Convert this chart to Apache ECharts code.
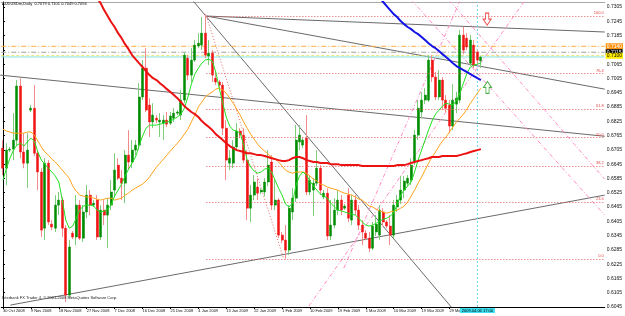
<!DOCTYPE html>
<html>
<head>
<meta charset="utf-8">
<script src="https://cdn.jsdelivr.net/npm/echarts@6/dist/echarts.min.js"></script>
<style>
html, body { margin: 0; padding: 0; background: #fff; }
#main { width: 625px; height: 316px; }
</style>
</head>
<body>
<div id="main"></div>
<script>
var FONT = 'Liberation Sans';
var SLOTS = 173; // bars + empty shift area on the right

// date labels, one every 8 bars
var tickLabels = ['30 Oct 2008', '9 Nov 2008', '18 Nov 2008', '27 Nov 2008', '7 Dec 2008', '16 Dec 2008',
    '25 Dec 2008', '4 Jan 2009', '13 Jan 2009', '22 Jan 2009', '1 Feb 2009', '10 Feb 2009', '19 Feb 2009',
    '1 Mar 2009', '10 Mar 2009', '19 Mar 2009', '29 Mar 2009'];

// daily bars [open, close, low, high]
var candles = [
    [0.6712,0.6628,0.6599,0.6746],[0.6628,0.6704,0.6557,0.6733],[0.6704,0.6708,0.6696,0.6717],[0.6708,0.6746,0.6662,0.6859],
    [0.6746,0.6973,0.6725,0.6998],[0.6973,0.6696,0.6670,0.7006],[0.6696,0.6649,0.6628,0.6775],[0.6649,0.6704,0.6544,0.6775],
    [0.6872,0.6880,0.6864,0.6893],[0.6880,0.6691,0.6679,0.6977],[0.6691,0.6612,0.6536,0.6704],[0.6612,0.6368,0.6339,0.6628],
    [0.6376,0.6649,0.6326,0.6670],[0.6649,0.6402,0.6389,0.6662],[0.6393,0.6381,0.6368,0.6410],[0.6376,0.6473,0.6360,0.6515],
    [0.6473,0.6494,0.6431,0.6528],[0.6494,0.6376,0.6339,0.6507],[0.6376,0.6095,0.6066,0.6389],[0.6095,0.6297,0.6082,0.6326],
    [0.6355,0.6339,0.6330,0.6364],[0.6339,0.6473,0.6305,0.6515],[0.6473,0.6334,0.6326,0.6494],[0.6334,0.6444,0.6318,0.6473],
    [0.6444,0.6515,0.6418,0.6557],[0.6515,0.6473,0.6431,0.6536],[0.6473,0.6481,0.6465,0.6494],[0.6494,0.6339,0.6326,0.6515],
    [0.6339,0.6452,0.6326,0.6473],[0.6452,0.6431,0.6389,0.6494],[0.6431,0.6473,0.6292,0.6502],[0.6473,0.6528,0.6452,0.6578],
    [0.6536,0.6620,0.6507,0.6691],[0.6641,0.6586,0.6578,0.6670],[0.6586,0.6565,0.6494,0.6620],[0.6565,0.6683,0.6481,0.6704],
    [0.6683,0.6654,0.6620,0.6788],[0.6654,0.6704,0.6628,0.6746],[0.6704,0.6725,0.6683,0.6746],[0.6725,0.6927,0.6704,0.6985],
    [0.6927,0.7048,0.6914,0.7082],[0.7048,0.6872,0.6864,0.7132],[0.6893,0.6822,0.6759,0.6922],[0.6822,0.6851,0.6796,0.6901],
    [0.6838,0.6830,0.6817,0.6851],[0.6822,0.6830,0.6759,0.6859],[0.6817,0.6830,0.6746,0.6851],[0.6830,0.6813,0.6801,0.6864],
    [0.6817,0.6847,0.6809,0.6864],[0.6838,0.6859,0.6822,0.6880],[0.6859,0.6864,0.6851,0.6872],[0.6851,0.6914,0.6830,0.6956],
    [0.6914,0.7103,0.6901,0.7116],[0.7090,0.7019,0.6998,0.7103],[0.7019,0.7082,0.6990,0.7132],[0.7082,0.7145,0.7074,0.7166],
    [0.7141,0.7153,0.7132,0.7195],[0.7145,0.7195,0.7124,0.7263],[0.7195,0.7103,0.7090,0.7275],[0.7099,0.7111,0.7061,0.7166],
    [0.7111,0.7019,0.6990,0.7124],[0.7006,0.6990,0.6977,0.7032],[0.6990,0.6977,0.6964,0.6998],[0.6977,0.6796,0.6767,0.6990],
    [0.6796,0.6662,0.6578,0.6830],[0.6649,0.6670,0.6620,0.6704],[0.6649,0.6717,0.6628,0.6746],[0.6717,0.6784,0.6704,0.6817],
    [0.6784,0.6767,0.6754,0.6796],[0.6767,0.6662,0.6649,0.6796],[0.6662,0.6460,0.6410,0.6704],[0.6460,0.6515,0.6402,0.6557],
    [0.6515,0.6570,0.6494,0.6599],[0.6549,0.6523,0.6494,0.6586],[0.6528,0.6536,0.6519,0.6544],[0.6528,0.6570,0.6511,0.6586],
    [0.6570,0.6641,0.6553,0.6704],[0.6654,0.6473,0.6452,0.6683],[0.6473,0.6494,0.6452,0.6578],[0.6494,0.6347,0.6334,0.6502],
    [0.6347,0.6326,0.6313,0.6360],[0.6326,0.6284,0.6246,0.6389],[0.6284,0.6460,0.6263,0.6473],[0.6444,0.6502,0.6410,0.6544],
    [0.6502,0.6746,0.6486,0.6809],[0.6738,0.6767,0.6704,0.6809],[0.6725,0.6746,0.6712,0.6754],[0.6754,0.6528,0.6515,0.6851],
    [0.6528,0.6578,0.6515,0.6599],[0.6536,0.6565,0.6427,0.6586],[0.6565,0.6628,0.6553,0.6704],[0.6628,0.6536,0.6515,0.6641],
    [0.6507,0.6523,0.6498,0.6536],[0.6523,0.6343,0.6326,0.6544],[0.6343,0.6389,0.6326,0.6494],[0.6389,0.6452,0.6376,0.6502],
    [0.6452,0.6494,0.6431,0.6536],[0.6494,0.6452,0.6431,0.6515],[0.6460,0.6469,0.6452,0.6477],[0.6515,0.6418,0.6402,0.6544],
    [0.6410,0.6494,0.6389,0.6515],[0.6494,0.6452,0.6431,0.6515],[0.6452,0.6389,0.6368,0.6473],[0.6389,0.6360,0.6305,0.6410],
    [0.6355,0.6334,0.6326,0.6368],[0.6334,0.6292,0.6276,0.6360],[0.6292,0.6385,0.6284,0.6402],[0.6360,0.6393,0.6343,0.6431],
    [0.6347,0.6452,0.6326,0.6473],[0.6444,0.6402,0.6385,0.6460],[0.6402,0.6385,0.6376,0.6410],[0.6385,0.6347,0.6305,0.6431],
    [0.6347,0.6473,0.6334,0.6494],[0.6465,0.6494,0.6444,0.6515],[0.6494,0.6536,0.6477,0.6595],[0.6536,0.6574,0.6502,0.6595],
    [0.6565,0.6586,0.6553,0.6599],[0.6578,0.6641,0.6557,0.6670],[0.6654,0.6767,0.6641,0.6788],[0.6767,0.6880,0.6746,0.6914],
    [0.6864,0.6914,0.6838,0.6948],[0.6914,0.6935,0.6897,0.6964],[0.6914,0.7082,0.6906,0.7103],[0.7082,0.7011,0.6990,0.7103],
    [0.7011,0.6927,0.6914,0.7032],[0.6927,0.6998,0.6914,0.7040],[0.6998,0.6914,0.6872,0.7011],[0.6914,0.6880,0.6864,0.6935],
    [0.6893,0.6805,0.6775,0.6914],[0.6805,0.6914,0.6788,0.6981],[0.6897,0.6922,0.6859,0.6948],[0.6914,0.7187,0.6901,0.7208],
    [0.7187,0.7124,0.7107,0.7221],[0.7174,0.7137,0.7124,0.7195],[0.7069,0.7166,0.7057,0.7187],[0.7145,0.7061,0.7048,0.7166],
    [0.7116,0.7082,0.7061,0.7124],[0.7079,0.7094,0.7049,0.7101]
];

// moving averages as drawn
var maGreen = [
    0.6578,0.6628,0.6670,0.6704,0.6725,0.6733,0.6721,0.6738,0.6754,0.6742,
    0.6696,0.6662,0.6645,0.6628,0.6612,0.6595,0.6570,0.6494,0.6410,0.6376,
    0.6385,0.6418,0.6452,0.6469,0.6473,0.6473,0.6469,0.6452,0.6444,0.6448,
    0.6456,0.6473,0.6511,0.6536,0.6561,0.6595,0.6624,0.6649,0.6675,0.6721,
    0.6763,0.6796,0.6809,0.6809,0.6809,0.6813,0.6817,0.6822,0.6826,0.6834,
    0.6843,0.6855,0.6880,0.6927,0.6981,0.7023,0.7048,0.7069,0.7082,0.7086,
    0.7078,0.7032,0.6964,0.6901,0.6843,0.6805,0.6788,0.6784,0.6775,0.6725,
    0.6662,0.6633,0.6616,0.6607,0.6612,0.6624,0.6628,0.6612,0.6578,0.6544,
    0.6515,0.6477,0.6465,0.6481,0.6557,0.6595,0.6612,0.6599,0.6574,0.6553,
    0.6536,0.6519,0.6511,0.6502,0.6481,0.6465,0.6452,0.6448,0.6444,0.6439,
    0.6435,0.6431,0.6418,0.6402,0.6389,0.6385,0.6389,0.6397,0.6406,0.6414,
    0.6418,0.6427,0.6439,0.6477,0.6515,0.6536,0.6553,0.6570,0.6612,0.6662,
    0.6704,0.6746,0.6788,0.6826,0.6855,0.6872,0.6889,0.6901,0.6897,0.6893,
    0.6914,0.6943,0.6985,0.7027,0.7053,0.7061,0.7065,0.7069
];
var maOrange = [
    0.6792,0.6784,0.6780,0.6775,0.6775,0.6775,0.6775,0.6780,0.6780,0.6767,
    0.6742,0.6717,0.6696,0.6683,0.6666,0.6654,0.6637,0.6620,0.6603,0.6586,
    0.6553,0.6532,0.6515,0.6511,0.6507,0.6507,0.6502,0.6498,0.6494,0.6498,
    0.6502,0.6502,0.6494,0.6498,0.6502,0.6515,0.6523,0.6536,0.6544,0.6553,
    0.6561,0.6574,0.6591,0.6612,0.6633,0.6649,0.6666,0.6683,0.6700,0.6717,
    0.6733,0.6750,0.6771,0.6792,0.6822,0.6851,0.6885,0.6906,0.6927,0.6939,
    0.6948,0.6960,0.6964,0.6956,0.6943,0.6922,0.6901,0.6876,0.6851,0.6822,
    0.6796,0.6771,0.6750,0.6729,0.6712,0.6700,0.6687,0.6675,0.6666,0.6654,
    0.6637,0.6620,0.6612,0.6607,0.6612,0.6612,0.6612,0.6607,0.6595,0.6582,
    0.6574,0.6561,0.6557,0.6549,0.6544,0.6540,0.6536,0.6528,0.6523,0.6519,
    0.6515,0.6507,0.6498,0.6494,0.6481,0.6469,0.6465,0.6456,0.6448,0.6444,
    0.6439,0.6444,0.6448,0.6452,0.6460,0.6469,0.6486,0.6511,0.6536,0.6565,
    0.6591,0.6620,0.6649,0.6675,0.6696,0.6721,0.6742,0.6759,0.6780,0.6801,
    0.6822,0.6838,0.6855,0.6876,0.6901,0.6922,0.6943,0.6964
];
var redStart = 27;
var maRed = [
    0.7342,0.7321,0.7292,0.7267,0.7242,0.7221,0.7195,0.7174,0.7149,0.7128,
    0.7103,0.7086,0.7069,0.7053,0.7036,0.7019,0.7006,0.6998,0.6985,0.6973,
    0.6960,0.6948,0.6935,0.6922,0.6906,0.6889,0.6876,0.6864,0.6855,0.6843,
    0.6826,0.6813,0.6801,0.6788,0.6771,0.6759,0.6746,0.6733,0.6721,0.6712,
    0.6704,0.6700,0.6696,0.6691,0.6691,0.6687,0.6683,0.6683,0.6679,0.6675,
    0.6670,0.6666,0.6662,0.6658,0.6658,0.6662,0.6670,0.6675,0.6675,0.6670,
    0.6662,0.6658,0.6654,0.6654,0.6650,0.6650,0.6650,0.6645,0.6645,0.6645,
    0.6641,0.6641,0.6641,0.6641,0.6641,0.6641,0.6637,0.6637,0.6637,0.6637,
    0.6637,0.6637,0.6637,0.6637,0.6637,0.6637,0.6641,0.6641,0.6641,0.6645,
    0.6650,0.6654,0.6658,0.6662,0.6666,0.6670,0.6675,0.6675,0.6675,0.6679,
    0.6679,0.6679,0.6679,0.6679,0.6683,0.6687,0.6691,0.6696,0.6700,0.6704,
    0.6708
];
var blueStart = 107;
var maBlue = [
    0.7359,0.7342,0.7326,0.7309,0.7292,0.7275,0.7263,0.7246,0.7233,0.7221,
    0.7212,0.7200,0.7191,0.7179,0.7166,0.7153,0.7141,0.7132,0.7120,0.7107,
    0.7095,0.7082,0.7069,0.7057,0.7048,0.7040,0.7032,0.7023,0.7015,0.7006,
    0.6998
];

// Fibonacci retracement, Jan high to Feb low
var fibLevels = [0.7267, 0.7026, 0.6877, 0.6757, 0.6636, 0.6487, 0.6246];
var fibNames = ['100.0', '76.4', '61.8', '50.0', '38.2', '23.6', '0.0'];
var fibFrom = 58.3;
var fibDiagonal = [[58.3, 0.7267], [80.5, 0.6246]];

// drawn objects, [bar index, price] end points
var trendLines = [
    [[-0.8, 0.7019], [172.5, 0.6762]],
    [[58.3, 0.7267], [172.5, 0.7200]],
    [[58.3, 0.7267], [172.5, 0.6960]],
    [[54.3, 0.7334], [128.5, 0.6045]],
    [[2.1, 0.6053], [172.5, 0.6515]]
];
var fanLines = [
    [[87.7, 0.6049], [149.7, 0.7334]],
    [[97.7, 0.6208], [131.1, 0.7334]],
    [[117.1, 0.7334], [172.5, 0.6431]],
    [[127.9, 0.7334], [172.5, 0.6582]]
];
var tagPrices = [0.7140, 0.7115, 0.7100];
var crossPrice = 0.7095;
var crossBar = 136;
var crossTime = '2009.04.06 17:00';
var arrowDown = [138.8, 0.7254];
var arrowUp = [138.9, 0.6967];

function padStart(arr, start) {
    var out = [];
    for (var i = 0; i < start; i++) out.push(null);
    return out.concat(arr);
}

var cats = [];
for (var i = 0; i < SLOTS; i++) cats.push(i);

// bodies only (no wick), wick series is drawn underneath in a lighter colour
var bodies = candles.map(function (c) {
    return [c[0], c[1], Math.min(c[0], c[1]), Math.max(c[0], c[1])];
});

function showTick(idx) {
    return idx % 8 === 0 && idx <= 128;
}

var series = [];

trendLines.forEach(function (ln, k) {
    var s = {
        type: 'line', xAxisIndex: 1, data: ln, symbol: 'none', silent: true, z: 2,
        lineStyle: { color: '#6a6a6a', width: 1 }
    };
    if (k === 0) {
        s.markLine = {
            symbol: ['none', 'none'], silent: true, animation: false,
            lineStyle: { color: '#e05a5a', width: 1, type: [1, 2] },
            label: { show: true, position: 'insideEndTop', fontSize: 4, color: '#e04848', fontFamily: FONT, distance: 1 },
            data: fibLevels.map(function (v, j) {
                return [{ coord: [fibFrom, v], name: fibNames[j] }, { coord: [SLOTS - 0.5, v] }];
            })
        };
    }
    series.push(s);
});

fanLines.forEach(function (ln) {
    series.push({
        type: 'line', xAxisIndex: 1, data: ln, symbol: 'none', silent: true, z: 2,
        lineStyle: { color: '#ff8cc6', width: 1, type: [4, 2, 1, 2] }
    });
});

series.push({
    type: 'line', xAxisIndex: 1, data: fibDiagonal, symbol: 'none', silent: true, z: 2,
    lineStyle: { color: '#e86a6a', width: 1, type: [1, 2] }
});

// horizontal price levels with their tags on the price scale
var tagStyles = [
    { line: '#ffae3c', dash: [5, 2, 1, 2], bg: '#ff9410', fg: '#fff' },
    { line: '#a0a0a0', dash: [5, 2, 1, 2], bg: '#000', fg: '#fff' },
    { line: '#e6dc50', dash: [3, 2], bg: '#ffee00', fg: '#000' }
];
tagPrices.forEach(function (v, k) {
    var st = tagStyles[k];
    series.push({
        type: 'line', xAxisIndex: 1, data: [[-0.5, v], [SLOTS - 0.5, v]], symbol: 'none', silent: true, z: 2,
        lineStyle: { color: st.line, width: 1, type: st.dash },
        markPoint: {
            symbol: 'rect', symbolSize: 0, silent: true, animation: false,
            label: {
                show: true, position: 'right', distance: 1, formatter: v.toFixed(4),
                fontSize: 5, fontFamily: FONT, color: st.fg, backgroundColor: st.bg, padding: [1, 1, 0, 1]
            },
            data: [{ coord: [SLOTS - 0.5, v] }]
        }
    });
});

// crosshair
series.push({
    type: 'line', xAxisIndex: 1, data: [[-0.5, crossPrice], [SLOTS - 0.5, crossPrice]], symbol: 'none', silent: true, z: 2,
    lineStyle: { color: '#86e4ee', width: 1 }
});
series.push({
    type: 'line', xAxisIndex: 1, data: [[crossBar, 0.6045], [crossBar, 0.7326]], symbol: 'none', silent: true, z: 2,
    lineStyle: { color: '#6ad8e8', width: 1, type: [2, 2] },
    markPoint: {
        symbol: 'rect', symbolSize: 0, silent: true, animation: false,
        label: {
            show: true, position: 'bottom', distance: 1, formatter: crossTime,
            fontSize: 4, fontFamily: FONT, color: '#000', backgroundColor: '#3ee0f2', padding: [1, 2, 0, 2]
        },
        data: [{ coord: [crossBar, 0.6045] }]
    }
});

// wicks
series.push({
    type: 'candlestick', data: candles, barWidth: 1, z: 3, silent: true,
    itemStyle: { color: '#7ccc7c', color0: '#f28c8c', borderColor: '#7ccc7c', borderColor0: '#f28c8c', borderWidth: 1 }
});

// bodies
series.push({
    type: 'candlestick', data: bodies, barWidth: 2.5, z: 4, silent: true,
    itemStyle: { color: '#008c00', color0: '#f01414', borderColor: '#008c00', borderColor0: '#f01414', borderWidth: 0.5 }
});

function maSeries(data, color, width) {
    return {
        type: 'line', data: data, showSymbol: false, symbol: 'none', silent: true, z: 5,
        lineStyle: { color: color, width: width }, connectNulls: false
    };
}
series.push(maSeries(maOrange, '#ffa41c', 1));
series.push(maSeries(maGreen, '#22e022', 1));
series.push(maSeries(padStart(maRed, redStart), '#ec1212', 2));
series.push(maSeries(padStart(maBlue, blueStart), '#1414e6', 2));

series.push({
    type: 'scatter', xAxisIndex: 1, data: [arrowDown], z: 6, silent: true,
    symbol: 'path://M3,0 L7,0 L7,6 L10,6 L5,12 L0,6 L3,6 Z', symbolSize: [8, 12],
    itemStyle: { color: '#fff', borderColor: '#e82020', borderWidth: 1 }
});
series.push({
    type: 'scatter', xAxisIndex: 1, data: [arrowUp], z: 6, silent: true,
    symbol: 'path://M5,0 L10,6 L7,6 L7,12 L3,12 L3,6 L0,6 Z', symbolSize: [8, 12],
    itemStyle: { color: '#fff', borderColor: '#20a020', borderWidth: 1 }
});

var chart = echarts.init(document.getElementById('main'));
chart.setOption({
    animation: false,
    backgroundColor: '#fff',
    grid: { left: 1, right: 18, top: 2, bottom: 9 },
    xAxis: [{
        type: 'category', data: cats, boundaryGap: true,
        axisLine: { lineStyle: { color: '#000', width: 1 } },
        axisTick: { show: true, alignWithLabel: true, length: 2, interval: function (idx) { return showTick(idx); }, lineStyle: { color: '#000' } },
        axisLabel: {
            interval: function (idx) { return showTick(idx); },
            formatter: function (v, idx) { return tickLabels[idx / 8] || ''; },
            fontSize: 4, color: '#111', fontFamily: FONT, align: 'left', margin: 2
        },
        splitLine: { show: false }
    }, {
        type: 'value', min: -0.5, max: SLOTS - 0.5, position: 'top',
        axisLine: { show: true, onZero: false, lineStyle: { color: '#a8a8a8', width: 1 } },
        axisTick: { show: false }, axisLabel: { show: false }, splitLine: { show: false }
    }],
    yAxis: {
        type: 'value', position: 'right', min: 0.6045, max: 0.7326, interval: 0.006, scale: true,
        axisLine: { show: true, lineStyle: { color: '#000', width: 1 } },
        axisTick: { show: true, length: 2, lineStyle: { color: '#000' } },
        axisLabel: {
            fontSize: 5, color: '#111', fontFamily: FONT, margin: 2, showMaxLabel: false,
            formatter: function (v) { return v.toFixed(4); }
        },
        splitLine: { show: false }
    },
    graphic: [
        { type: 'text', left: 2, top: 2, z: 10, style: { text: 'AUDUSDm,Daily  0.7079 0.7101 0.7049 0.7094', font: '4px "Liberation Sans"', fill: '#000' } },
        { type: 'text', left: 2, top: 296, z: 10, style: { text: 'Interbank FX Trader 4, \u00a9 2001-2008 MetaQuotes Software Corp.', font: '4px "Liberation Sans"', fill: '#222' } }
    ],
    series: series
});
</script>
</body>
</html>
